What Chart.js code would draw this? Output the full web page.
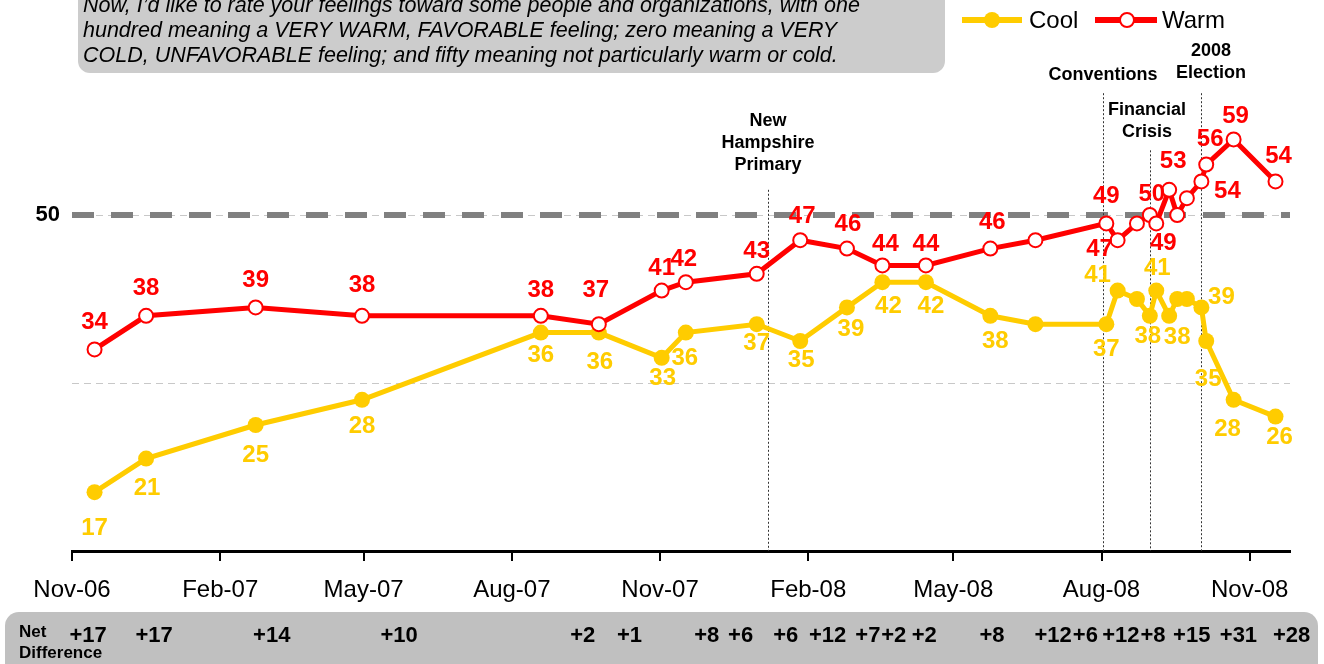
<!DOCTYPE html>
<html>
<head>
<meta charset="utf-8">
<script src="https://cdn.jsdelivr.net/npm/chart.js@4.4.0/dist/chart.umd.min.js"></script>
<style>
  html, body { margin: 0; padding: 0; background: #fff; }
</style>
</head>
<body>
<canvas id="myChart" width="1324" height="664"></canvas>
<script>
// poll dates and feeling thermometer results
const pollDates = ['2006-11-15','2006-12-17','2007-02-23','2007-04-30','2007-08-19','2007-09-24',
  '2007-11-02','2007-11-17','2007-12-31','2008-01-27','2008-02-25','2008-03-18','2008-04-14',
  '2008-05-24','2008-06-21','2008-08-04','2008-08-11','2008-08-23','2008-08-31','2008-09-04',
  '2008-09-12','2008-09-17','2008-09-23','2008-10-02','2008-10-05','2008-10-22','2008-11-17'];
const warm = [34,38,39,38,38,37,41,42,43,47,46,44,44,46,47,49,47,49,50,49,53,50,52,54,56,59,54];
const cool = [17,21,25,28,36,36,33,36,37,35,39,42,42,38,37,37,41,40,38,41,38,40,40,39,35,28,26];

const tickDates = ['2006-11-01','2007-02-01','2007-05-01','2007-08-01','2007-11-01','2008-02-01','2008-05-01','2008-08-01','2008-11-01'];
const tickLabels = ['Nov-06','Feb-07','May-07','Aug-07','Nov-07','Feb-08','May-08','Aug-08','Nov-08'];

const netDiff = ['+17','+17','+14','+10','+2','+1','+8','+6','+6','+12','+7','+2','+2','+8','+12','+6','+12','+8','+15','+31','+28'];
const netDiffDates = ['2006-11-11','2006-12-22','2007-03-05','2007-05-23','2007-09-14','2007-10-13','2007-11-30',
  '2007-12-21','2008-01-18','2008-02-13','2008-03-09','2008-03-25','2008-04-13','2008-05-25','2008-07-02',
  '2008-07-22','2008-08-13','2008-09-02','2008-09-26','2008-10-25','2008-11-27'];

// event markers: date, label lines, top of line (value units)
const events = [
  { date: '2008-01-07', lines: ['New', 'Hampshire', 'Primary'], top: 53 },
  { date: '2008-08-02', lines: ['Conventions'], top: 64.5 },
  { date: '2008-08-31', lines: ['Financial', 'Crisis'], top: 57.7 },
  { date: '2008-10-02', lines: ['2008', 'Election'], top: 64.5 }
];

// label offsets (px) relative to each marker, null = no label
const warmLabelOffset = [[0,-27],[0,-27],[0,-27],[0,-30],[0,-25],[-3,-34],[0,-22],[-2,-23],[0,-22],[2,-24],
  [1,-24],[3,-21],[0,-21],[2,-26],null,[0,-27],[-18,9],null,[2,-21],[7,20],[4,-28],null,null,[26,10],[4,-25],[2,-23],[3,-25]];
const coolLabelOffset = [[0,36],[1,30],[0,30],[0,27],[0,23],[1,30],[1,21],[-1,26],[0,19],[1,19],[4,22],[6,24],
  [5,24],[5,26],null,[0,25],[-20,-15],null,[-2,21],[1,-22],[8,22],null,null,[20,-10],[2,38],[-6,30],[4,21]];

const RED = '#ff0000';
const YELLOW = '#ffcc00';
const FONT = '"Liberation Sans", Arial, sans-serif';

const day0 = Date.UTC(2006, 10, 1);
const toDay = s => {
  const p = s.split('-').map(Number);
  return (Date.UTC(p[0], p[1] - 1, p[2]) - day0) / 86400000;
};

const warmPts = pollDates.map((d, i) => ({ x: toDay(d), y: warm[i] }));
const coolPts = pollDates.map((d, i) => ({ x: toDay(d), y: cool[i] }));

const decorPlugin = {
  id: 'decor',
  beforeDraw(chart) {
    const ctx = chart.ctx;
    ctx.save();
    // question box
    ctx.fillStyle = '#cccccc';
    ctx.beginPath();
    ctx.roundRect(78, -20, 867, 93, 12);
    ctx.fill();
    ctx.fillStyle = '#000';
    ctx.font = 'italic 21.5px ' + FONT;
    ctx.textBaseline = 'alphabetic';
    ctx.textAlign = 'left';
    ctx.fillText('Now, I\u2019d like to rate your feelings toward some people and organizations, with one', 83, 12);
    ctx.fillText('hundred meaning a VERY WARM, FAVORABLE feeling; zero meaning a VERY', 83, 37);
    ctx.fillText('COLD, UNFAVORABLE feeling; and fifty meaning not particularly warm or cold.', 83, 62);
    // net difference box
    ctx.fillStyle = '#c0c0c0';
    ctx.beginPath();
    ctx.roundRect(5, 612, 1313, 80, 14);
    ctx.fill();
    ctx.restore();
  },
  beforeDatasetsDraw(chart) {
    const ctx = chart.ctx;
    const x = chart.scales.x, y = chart.scales.y;
    const area = chart.chartArea;
    ctx.save();
    // light gridlines
    ctx.strokeStyle = '#c8c8c8';
    ctx.lineWidth = 1;
    ctx.setLineDash([7, 5]);
    [30, 50].forEach(v => {
      const py = Math.round(y.getPixelForValue(v)) + 0.5;
      ctx.beginPath();
      ctx.moveTo(area.left, py);
      ctx.lineTo(area.right, py);
      ctx.stroke();
    });
    // heavy 50 line
    ctx.strokeStyle = '#808080';
    ctx.lineWidth = 6;
    ctx.setLineDash([22, 17]);
    const p50 = y.getPixelForValue(50);
    ctx.beginPath();
    ctx.moveTo(area.left, p50);
    ctx.lineTo(area.right, p50);
    ctx.stroke();
    // event lines
    ctx.strokeStyle = '#333';
    ctx.lineWidth = 1;
    ctx.setLineDash([2, 2]);
    events.forEach(ev => {
      const px = Math.round(x.getPixelForValue(toDay(ev.date))) + 0.5;
      ctx.beginPath();
      ctx.moveTo(px, y.getPixelForValue(ev.top));
      ctx.lineTo(px, area.bottom);
      ctx.stroke();
    });
    ctx.restore();
  },
  afterDatasetsDraw(chart) {
    const ctx = chart.ctx;
    ctx.save();
    ctx.font = 'bold 24px ' + FONT;
    ctx.textAlign = 'center';
    ctx.textBaseline = 'middle';
    const sets = [[0, warm, warmLabelOffset, RED], [1, cool, coolLabelOffset, YELLOW]];
    sets.forEach(([idx, vals, offs, col]) => {
      const meta = chart.getDatasetMeta(idx);
      ctx.fillStyle = col;
      meta.data.forEach((pt, i) => {
        if (!offs[i]) return;
        ctx.fillText(String(vals[i]), pt.x + offs[i][0], pt.y + offs[i][1]);
      });
    });
    ctx.restore();
  },
  afterDraw(chart) {
    const ctx = chart.ctx;
    const x = chart.scales.x;
    ctx.save();
    // event labels
    ctx.fillStyle = '#000';
    ctx.font = 'bold 18px ' + FONT;
    ctx.textAlign = 'center';
    ctx.textBaseline = 'middle';
    const evLabelPos = [[768, 121], [1103, 75], [1147, 110], [1211, 51]];
    events.forEach((ev, i) => {
      ev.lines.forEach((t, j) => ctx.fillText(t, evLabelPos[i][0], evLabelPos[i][1] + j * 22));
    });
    // legend
    ctx.lineWidth = 6;
    ctx.strokeStyle = YELLOW;
    ctx.beginPath(); ctx.moveTo(962, 20); ctx.lineTo(1022, 20); ctx.stroke();
    ctx.fillStyle = YELLOW;
    ctx.beginPath(); ctx.arc(992, 20, 8, 0, Math.PI * 2); ctx.fill();
    ctx.strokeStyle = RED;
    ctx.beginPath(); ctx.moveTo(1095, 20); ctx.lineTo(1157, 20); ctx.stroke();
    ctx.fillStyle = '#fff';
    ctx.lineWidth = 2;
    ctx.beginPath(); ctx.arc(1127, 20, 7, 0, Math.PI * 2); ctx.fill(); ctx.stroke();
    ctx.fillStyle = '#000';
    ctx.font = '24px ' + FONT;
    ctx.textAlign = 'left';
    ctx.fillText('Cool', 1029, 21);
    ctx.fillText('Warm', 1162, 21);
    // net difference row
    ctx.font = 'bold 17px ' + FONT;
    ctx.fillText('Net', 19, 632);
    ctx.fillText('Difference', 19, 653);
    ctx.font = 'bold 22px ' + FONT;
    ctx.textAlign = 'center';
    netDiff.forEach((t, i) => {
      ctx.fillText(t, x.getPixelForValue(toDay(netDiffDates[i])), 636);
    });
    ctx.restore();
  }
};

const ctx = document.getElementById('myChart').getContext('2d');
const myChart = new Chart(ctx, {
  type: 'line',
  data: {
    datasets: [{
      label: 'Warm',
      data: warmPts,
      borderColor: RED,
      borderWidth: 5,
      pointRadius: 7,
      pointBorderWidth: 2,
      pointBackgroundColor: '#fff',
      pointBorderColor: RED,
      tension: 0
    }, {
      label: 'Cool',
      data: coolPts,
      borderColor: YELLOW,
      borderWidth: 5,
      pointRadius: 8,
      pointBorderWidth: 0,
      pointBackgroundColor: YELLOW,
      pointBorderColor: YELLOW,
      tension: 0
    }]
  },
  options: {
    responsive: false,
    animation: false,
    devicePixelRatio: 1,
    layout: { padding: { top: 47, right: 34, left: 0, bottom: 0 } },
    plugins: { legend: { display: false }, tooltip: { enabled: false } },
    scales: {
      x: {
        type: 'linear',
        min: 0,
        max: 756,
        afterBuildTicks: axis => { axis.ticks = tickDates.map(d => ({ value: toDay(d) })); },
        afterFit: axis => { axis.height = 113; },
        ticks: {
          autoSkip: false,
          maxRotation: 0,
          padding: 15,
          color: '#000',
          font: { family: FONT, size: 24 },
          callback: (v, i) => tickLabels[i]
        },
        grid: { drawOnChartArea: false, tickLength: 10, color: '#000', lineWidth: 2 },
        border: { color: '#000', width: 3 }
      },
      y: {
        min: 10,
        max: 70,
        afterFit: axis => { axis.width = 72; },
        ticks: {
          stepSize: 20,
          padding: 4,
          color: '#000',
          font: { family: FONT, size: 22, weight: 'bold' },
          callback: v => (v === 50 ? '50' : '')
        },
        grid: { display: false },
        border: { display: false }
      }
    }
  },
  plugins: [decorPlugin]
});
</script>
</body>
</html>
